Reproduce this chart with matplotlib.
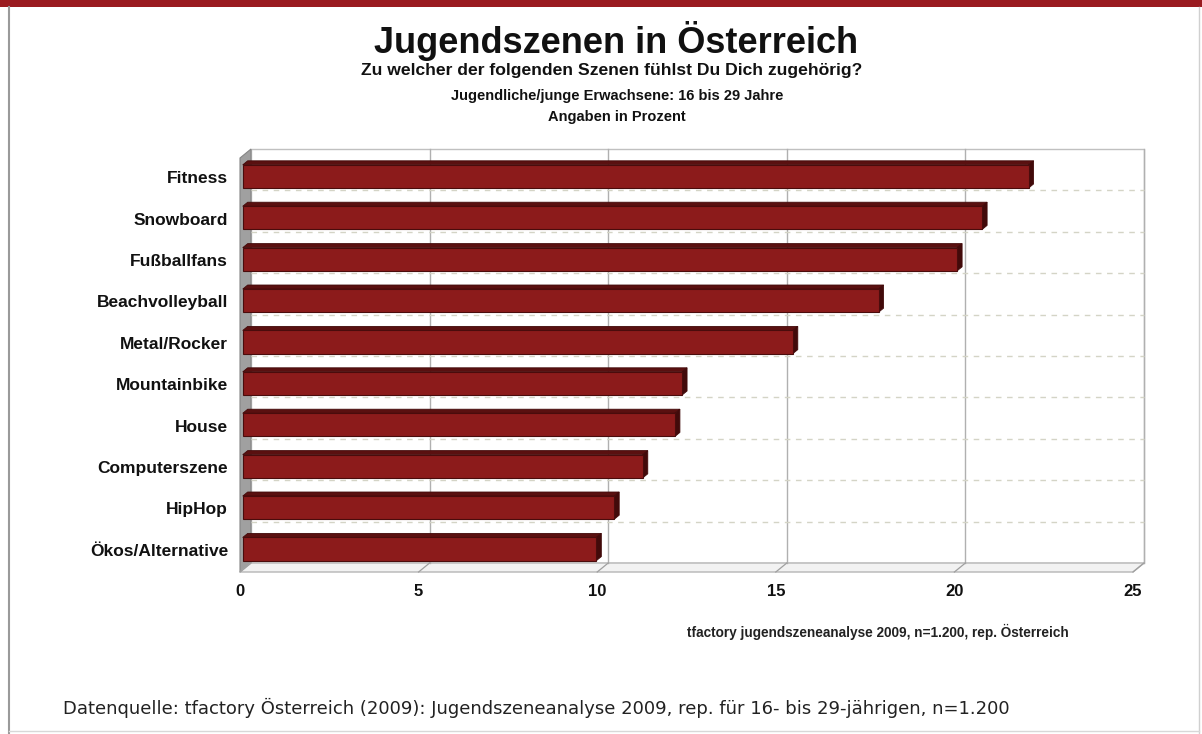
"""Jugendszenen in Österreich – horizontales Balkendiagramm im 3D-Stil."""

import matplotlib
import matplotlib.pyplot as plt
import numpy as np
from matplotlib.patches import Polygon, Rectangle
from matplotlib.lines import Line2D

matplotlib.use("Agg")

# ── Daten ─────────────────────────────────────────────────────────
szenen = [
    "Fitness", "Snowboard", "Fußballfans", "Beachvolleyball", "Metal/Rocker",
    "Mountainbike", "House", "Computerszene", "HipHop", "Ökos/Alternative",
]
prozent = [22.0, 20.7, 20.0, 17.8, 15.4, 12.3, 12.1, 11.2, 10.4, 9.9]
x_ticks = [0, 5, 10, 15, 20, 25]

# ── Layout (Pixel) ────────────────────────────────────────────────
W, H = 1202, 734
AX_L, AX_R = 240, 1133      # Frontkante 0 … 25
AX_T, AX_B = 158, 572
DEPTH_X, DEPTH_Y = 11, 9    # Tiefe der Rückwand

BAR_RED = "#8c1b1b"
BAR_TOP = "#5a1010"
BAR_END = "#420a0a"
FRAME_RED = "#9a1b20"

plt.rcParams["font.family"] = ["Liberation Sans", "DejaVu Sans"]


def fx(px):
    return px / W


def fy(py):
    return 1 - py / H


fig = plt.figure(figsize=(W / 100, H / 100), dpi=100, facecolor="white")

# Rahmen: roter Balken oben, graue Linien links/rechts/unten
fig.add_artist(Rectangle((0, fy(7)), 1, 7 / H, transform=fig.transFigure,
                         facecolor=FRAME_RED, edgecolor="none"))
fig.add_artist(Line2D([fx(9), fx(9)], [0, fy(7)], transform=fig.transFigure,
                      color="#9a9a9a", lw=1.5))
fig.add_artist(Line2D([fx(1199), fx(1199)], [0, fy(7)], transform=fig.transFigure,
                      color="#d0d0d0", lw=1))
fig.add_artist(Line2D([fx(9), fx(1199)], [fy(731), fy(731)], transform=fig.transFigure,
                      color="#d8d8d8", lw=1))

ax = fig.add_axes([fx(AX_L), fy(AX_B), fx(AX_R - AX_L), (AX_B - AX_T) / H])
n = len(szenen)
ypos = np.arange(n)[::-1]
ax.set_xlim(0, 25)
ax.set_ylim(-0.5, n - 0.5)
ax.axis("off")

# Tiefe in Datenkoordinaten
dx = DEPTH_X * 25 / (AX_R - AX_L)
dy = DEPTH_Y * n / (AX_B - AX_T)
y0, y1 = -0.5, n - 0.5

# Linke Wand
ax.add_patch(Polygon([(0, y0), (0, y1), (dx, y1 + dy), (dx, y0 + dy)],
                     closed=True, facecolor="#a0a0a0", edgecolor="#858585",
                     lw=0.8, clip_on=False, zorder=1))
# Boden
ax.add_patch(Polygon([(0, y0), (25, y0), (25 + dx, y0 + dy), (dx, y0 + dy)],
                     closed=True, facecolor="#f2f2f2", edgecolor="#b5b5b5",
                     lw=1.0, clip_on=False, zorder=1))
# Rückwand
ax.add_patch(Rectangle((dx, y0 + dy), 25, y1 - y0, facecolor="white",
                       edgecolor="#c0c0c0", lw=1.0, clip_on=False, zorder=0.5))

# Vertikale Gitterlinien an der Rückwand + Diagonalen im Boden
for v in x_ticks[1:]:
    ax.plot([v + dx, v + dx], [y0 + dy, y1 + dy], color="#b0b0b0", lw=1.0,
            clip_on=False, zorder=1)
for v in x_ticks:
    ax.plot([v, v + dx], [y0, y0 + dy], color="#a0a0a0", lw=0.9,
            clip_on=False, zorder=1.2)

# Gestrichelte Linien zwischen den Kategorien
for k in range(n - 1):
    yy = k + 0.5 + dy
    ax.plot([dx, 25 + dx], [yy, yy], color="#d4d4c6", lw=1.0,
            dashes=(4, 4), clip_on=False, zorder=1)

# 3D-Balken
bh = 0.56
bdx, bdy = dx * 0.45, dy * 0.45
ox, oy = dx * 0.25, dy * 0.25
for yc, val in zip(ypos, prozent):
    yb, yt = yc - bh / 2 + oy, yc + bh / 2 + oy
    ax.add_patch(Polygon([(ox, yt), (ox + val, yt), (ox + val + bdx, yt + bdy),
                          (ox + bdx, yt + bdy)], closed=True,
                         facecolor=BAR_TOP, edgecolor=BAR_END, lw=0.6,
                         clip_on=False, zorder=3))
    ax.add_patch(Polygon([(ox + val, yb), (ox + val, yt), (ox + val + bdx, yt + bdy),
                          (ox + val + bdx, yb + bdy)], closed=True,
                         facecolor=BAR_END, edgecolor=BAR_END, lw=0.6,
                         clip_on=False, zorder=3))
    ax.barh(yc + oy, val, height=bh, left=ox, color=BAR_RED,
            edgecolor="#4a0c0c", linewidth=0.8, zorder=4)

# Achsenbeschriftungen
for v in x_ticks:
    ax.text(v, y0 - 0.28, str(v), ha="center", va="top", fontsize=12,
            fontweight="bold", color="#111111")
for yc, name in zip(ypos, szenen):
    ax.text(-0.33, yc, name, ha="right", va="center", fontsize=12.5,
            fontweight="bold", color="#111111")

# Titel und Unterzeilen
fig.text(fx(616), fy(41), "Jugendszenen in Österreich", ha="center", va="center",
         fontsize=26, fontweight="bold", color="#111111")
fig.text(fx(612), fy(71), "Zu welcher der folgenden Szenen fühlst Du Dich zugehörig?",
         ha="center", va="center", fontsize=12.6, fontweight="bold", color="#111111")
fig.text(fx(617), fy(96), "Jugendliche/junge Erwachsene: 16 bis 29 Jahre",
         ha="center", va="center", fontsize=10.5, fontweight="bold", color="#111111")
fig.text(fx(617), fy(117), "Angaben in Prozent", ha="center", va="center",
         fontsize=10.5, fontweight="bold", color="#111111")

fig.text(fx(878), fy(632), "tfactory jugendszeneanalyse 2009, n=1.200, rep. Österreich",
         ha="center", va="center", fontsize=9.8, fontweight="bold", color="#222222")
fig.text(fx(63), fy(708),
         "Datenquelle: tfactory Österreich (2009): Jugendszeneanalyse 2009, "
         "rep. für 16- bis 29-jährigen, n=1.200",
         ha="left", va="center", fontsize=13, family=["DejaVu Sans"], color="#222222")

fig.savefig("out.png", dpi=100, facecolor="white")
